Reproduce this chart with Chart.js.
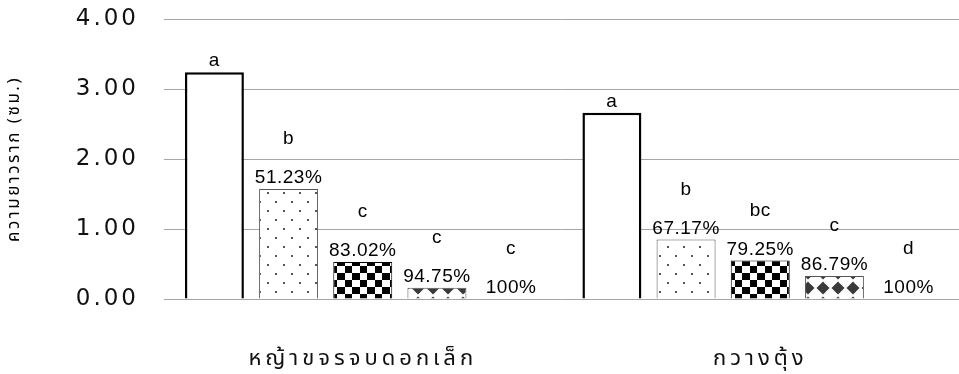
<!DOCTYPE html>
<html><head><meta charset="utf-8">
<script src="https://cdn.jsdelivr.net/npm/chart.js@4/dist/chart.umd.min.js"></script>
<style>html,body{margin:0;padding:0;background:#fff}#wrap{width:959px;height:374px}</style>
</head><body><div id="wrap"><canvas id="c" width="959" height="374"></canvas></div>
<script>
// ---- data ----
const categories = ['หญ้าขจรจบดอกเล็ก', 'กวางตุ้ง'];
const seriesNames = ['ชุดที่ 1', 'ชุดที่ 2', 'ชุดที่ 3', 'ชุดที่ 4', 'ชุดที่ 5'];
const series1 = [3.24, 2.66];
const series2 = [1.57, 0.85];
const series3 = [0.53, 0.55];
const series4 = [0.16, 0.33];
const series5 = [0, 0];
const pct1 = ['', ''];
const pct2 = ['51.23%', '67.17%'];
const pct3 = ['83.02%', '79.25%'];
const pct4 = ['94.75%', '86.79%'];
const pct5 = ['100%', '100%'];
const letters1 = ['a', 'a'];
const letters2 = ['b', 'b'];
const letters3 = ['c', 'bc'];
const letters4 = ['c', 'c'];
const letters5 = ['c', 'd'];
const yTickValues = [0, 1, 2, 3, 4];
const yTitle = 'ความยาวราก (ซม.)';

const allValues = [series1, series2, series3, series4, series5];
const allPct = [pct1, pct2, pct3, pct4, pct5];
const allLetters = [letters1, letters2, letters3, letters4, letters5];

// ---- patterns ----
function makeTile(w, h, draw) {
  const c = document.createElement('canvas'); c.width = w; c.height = h;
  const g = c.getContext('2d'); g.fillStyle = '#fff'; g.fillRect(0, 0, w, h); draw(g, w, h);
  return document.getElementById('c').getContext('2d').createPattern(c, 'repeat');
}
const dotPattern = makeTile(16, 18, (g) => {
  g.fillStyle = '#555';
  g.fillRect(3, 3, 2, 2); g.fillRect(11, 12, 2, 2);
});
const checkPattern = makeTile(15, 14, (g) => {
  g.fillStyle = '#000';
  g.fillRect(0, 0, 7, 7); g.fillRect(7, 7, 8, 7);
});
const diamondPattern = makeTile(15, 15, (g) => {
  g.fillStyle = '#3a3a3a';
  const cx = 13, cy = 3, r = 6.5;
  for (const dx of [-15, 0, 15]) for (const dy of [-15, 0, 15]) {
    g.beginPath();
    g.moveTo(cx + dx, cy + dy - r); g.lineTo(cx + dx + r, cy + dy);
    g.lineTo(cx + dx, cy + dy + r); g.lineTo(cx + dx - r, cy + dy); g.closePath(); g.fill();
  }
});
const fills = ['#ffffff', dotPattern, checkPattern, diamondPattern, '#ffffff'];
const borders = ['#000000', '#555555', '#000000', '#555555', '#555555'];
const borderWidths = [2.5, 1, 1, 1, 1];

const thaiFont = "Tahoma, 'Noto Sans Thai', 'Loma', 'Garuda', 'Noto Sans', sans-serif";

const spacingPlugin = {
  id: 'spacing',
  beforeDraw(chart) {
    const cfg = { y: ['3px', '2.5px'], x: ['4px', null] };
    for (const id of Object.keys(cfg)) {
      const sc = chart.scales[id];
      if (!sc || sc._wrapped) continue;
      const [labSp, titleSp] = cfg[id];
      const origL = sc.drawLabels;
      sc.drawLabels = function (ca) { const ctx = this.ctx; ctx.save(); ctx.letterSpacing = labSp; origL.call(this, ca); ctx.restore(); };
      if (titleSp) {
        const origT = sc.drawTitle;
        sc.drawTitle = function (ca) { const ctx = this.ctx; ctx.save(); ctx.letterSpacing = titleSp; origT.call(this, ca); ctx.restore(); };
      }
      sc._wrapped = true;
    }
  }
};

const labelPlugin = {
  id: 'barLabels',
  afterDatasetsDraw(chart) {
    const ctx = chart.ctx;
    ctx.save();
    ctx.font = "19px 'Liberation Sans', Arial, sans-serif";
    ctx.letterSpacing = '0.5px';
    ctx.fillStyle = '#000';
    ctx.textAlign = 'center';
    ctx.textBaseline = 'middle';
    chart.data.datasets.forEach((ds, di) => {
      const meta = chart.getDatasetMeta(di);
      meta.data.forEach((bar, i) => {
        const p = allPct[di][i];
        const l = allLetters[di][i];
        if (p) ctx.fillText(p, bar.x, bar.y - 11);
        if (l) ctx.fillText(l, bar.x, p ? bar.y - 50 : bar.y - 11);
      });
    });
    ctx.restore();
  }
};

new Chart(document.getElementById('c'), {
  type: 'bar',
  data: {
    labels: categories,
    datasets: allValues.map((vals, i) => ({
      label: seriesNames[i],
      data: vals,
      backgroundColor: fills[i],
      borderColor: borders[i],
      borderWidth: borderWidths[i],
      categoryPercentage: 0.933,
      barPercentage: 0.795
    }))
  },
  options: {
    responsive: false,
    animation: false,
    layout: { padding: { top: 19, right: -4, left: 0, bottom: 0 } },
    plugins: { legend: { display: false }, tooltip: { enabled: false } },
    scales: {
      y: {
        min: 0, max: 4,
        afterBuildTicks: (sc) => { sc.ticks = yTickValues.map(v => ({ value: v })); },
        afterFit: (sc) => { sc.width = 164; sc.paddingTop = 0; sc.paddingBottom = 0; },
        ticks: {
          callback: (v) => Number(v).toFixed(2),
          font: { family: "'DejaVu Sans', Verdana, sans-serif", size: 23 },
          color: '#111', padding: 25
        },
        grid: { color: '#a6a6a6', lineWidth: 1, drawTicks: false },
        border: { display: false },
        title: {
          display: true, text: yTitle,
          font: { family: thaiFont, size: 17 }, color: '#000',
          padding: { top: 5, bottom: 0 }
        }
      },
      x: {
        afterFit: (sc) => { sc.height = 75; },
        grid: { display: false },
        border: { display: false },
        ticks: {
          font: { family: thaiFont, size: 22 },
          color: '#111', padding: 40, maxRotation: 0
        }
      }
    }
  },
  plugins: [spacingPlugin, labelPlugin]
});
</script>
</body></html>
